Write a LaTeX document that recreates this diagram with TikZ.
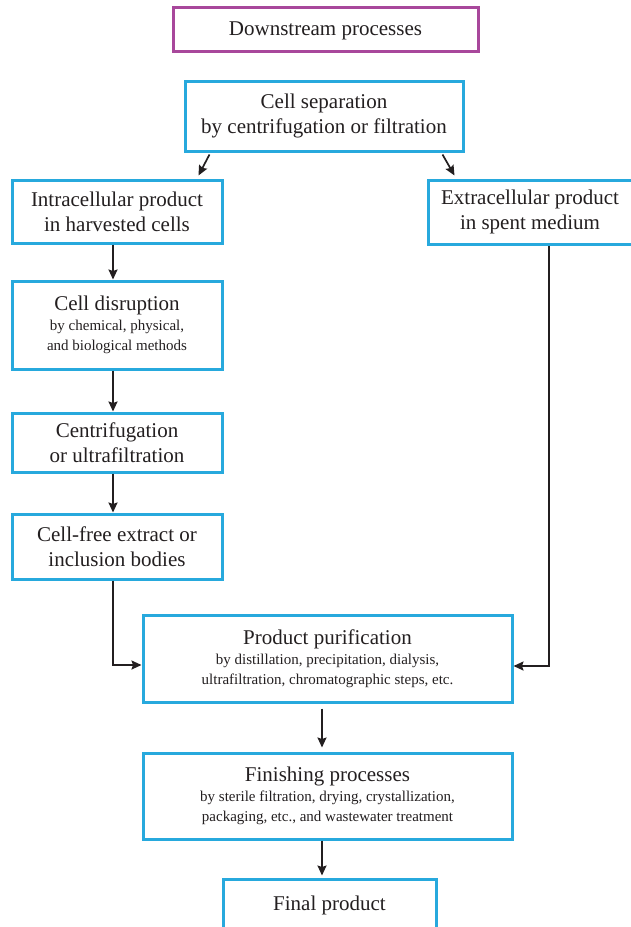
\documentclass[tikz,border=0pt]{standalone}
\usepackage{fontspec}
\setmainfont{Liberation Serif}
\usetikzlibrary{arrows.meta}
\definecolor{boxblue}{HTML}{27A9DD}
\definecolor{boxpurple}{HTML}{A8479B}
\definecolor{ink}{HTML}{231F20}
\newcommand{\mainsize}{\fontsize{21}{25}\selectfont}
\newcommand{\subsize}{\fontsize{15}{19.8}\selectfont}
\begin{document}
\begin{tikzpicture}[x=1pt,y=-1pt,
  box/.style={draw=boxblue, line width=3pt, fill=white, inner sep=0pt,
    align=center, text=ink, font=\mainsize},
  detailbox/.style={box, font=\subsize},
  arr/.style={draw=ink, line width=1.7pt, -{Stealth[length=10pt,width=9pt,inset=1.5pt]}}]
\useasboundingbox (0,0) rectangle (631,927);
\clip (0,0) rectangle (631,927);

\coordinate (colL) at (113,0);
\coordinate (colR) at (549,0);
\coordinate (colM) at (322,0);

\node[box, draw=boxpurple, minimum width=305pt, minimum height=44pt, text depth=1pt] (down) at (325.5,29) {Downstream processes};
\node[box, minimum width=278pt, minimum height=70pt] (sep) at (324,116) {Cell separation\\by centrifugation or filtration};
\node[box, minimum width=210pt, minimum height=63pt] (intra) at (117,211.5) {Intracellular product\\in harvested cells};
\node[box, minimum width=204pt, minimum height=64pt] (extra) at (530,212) {Extracellular product\\in spent medium};
\node[detailbox, minimum width=210pt, minimum height=88pt] (disr) at (117,325) {{\mainsize Cell disruption}\\by chemical, physical,\\and biological methods};
\node[box, minimum width=210pt, minimum height=59pt] (cent) at (117,442.5) {Centrifugation\\or ultrafiltration};
\node[box, minimum width=210pt, minimum height=65pt] (free) at (117,546.5) {Cell-free extract or\\inclusion bodies};
\node[detailbox, minimum width=369pt, minimum height=87pt] (purif) at (327.5,658.5) {{\mainsize Product purification}\\by distillation, precipitation, dialysis,\\ultrafiltration, chromatographic steps, etc.};
\node[detailbox, minimum width=369pt, minimum height=86pt] (fin) at (327.5,796) {{\mainsize Finishing processes}\\by sterile filtration, drying, crystallization,\\packaging, etc., and wastewater treatment};
\node[box, minimum width=213pt, minimum height=52pt] (final) at (329.5,905) {Final product};

% connectors
\draw[arr] ([xshift=26pt,yshift=-2pt]sep.south west) -- ([xshift=-25pt,yshift=3pt]intra.north east);
\draw[arr] ([xshift=-22pt,yshift=-2pt]sep.south east) -- ([xshift=28pt,yshift=3pt]extra.north west);
\draw[arr] (intra.south -| colL) -- (disr.north -| colL);
\draw[arr] (disr.south -| colL) -- (cent.north -| colL);
\draw[arr] (cent.south -| colL) -- (free.north -| colL);
\draw[arr] (free.south -| colL) |- ([yshift=-6.5pt]purif.west);
\draw[arr] (extra.south -| colR) |- ([yshift=-7.5pt]purif.east);
\draw[arr, shorten <=5pt, shorten >=4pt] (purif.south -| colM) -- (fin.north -| colM);
\draw[arr, shorten >=2pt] (fin.south -| colM) -- (final.north -| colM);
\end{tikzpicture}
\end{document}
